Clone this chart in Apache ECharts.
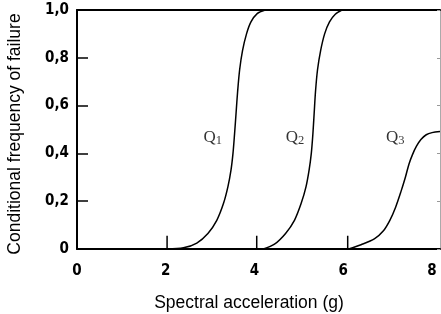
<!DOCTYPE html>
<html><head><meta charset="utf-8">
<script src="https://cdn.jsdelivr.net/npm/echarts@6/dist/echarts.min.js"></script>
<style>html,body{margin:0;padding:0;background:#fff}#c{width:441px;height:314px}</style>
</head><body><div id="c"></div>
<script>
const xTickLabels = ['0','2','4','6','8'];
const yTickLabels = ['0','0,2','0,4','0,6','0,8','1,0'];
const q1 = [[2.03,0],[2.4,0.005],[2.7,0.025],[2.95,0.065],[3.15,0.12],[3.3,0.19],[3.4,0.26],[3.47,0.33],[3.515,0.4],[3.55,0.48],[3.585,0.57],[3.62,0.66],[3.665,0.75],[3.73,0.83],[3.82,0.9],[3.92,0.95],[4.06,0.985],[4.24,1.0]];
const q2 = [[4.2,0],[4.45,0.02],[4.7,0.065],[4.9,0.12],[5.05,0.19],[5.16,0.26],[5.23,0.33],[5.28,0.4],[5.315,0.48],[5.345,0.57],[5.375,0.66],[5.42,0.75],[5.49,0.83],[5.58,0.9],[5.69,0.95],[5.82,0.982],[5.97,1.0]];
const q3 = [[6.12,0],[6.4,0.018],[6.7,0.042],[6.9,0.075],[7.05,0.12],[7.18,0.175],[7.3,0.24],[7.4,0.3],[7.48,0.355],[7.56,0.395],[7.65,0.43],[7.75,0.458],[7.87,0.478],[8.0,0.487],[8.18,0.492]];
const startValues = [2.03, 4.05, 6.1];
const curveNames = ['1','2','3'];
const labelPos = [[3.06,0.468],[4.91,0.468],[7.17,0.468]];

const chart = echarts.init(document.getElementById('c'), null, {renderer:'canvas'});
const tickFont = {fontFamily:'"DejaVu Sans Condensed","Liberation Sans Narrow",Arial,sans-serif', fontSize:15, fontWeight:'bold', color:'#000'};
const series = [];
[q1,q2,q3].forEach(d => series.push({type:'line', data:d, smooth:0.3, symbol:'none', lineStyle:{color:'#000', width:1.5}, xAxisIndex:0, yAxisIndex:0}));
startValues.forEach(v => series.push({type:'line', data:[[v,0],[v,0.055]], symbol:'none', lineStyle:{color:'#000', width:1.5}}));
series.push({type:'scatter', symbolSize:0, data:labelPos.map((p,i)=>({value:p, name:curveNames[i]})),
  label:{show:true, position:'inside', formatter: p => '{q|Q}{s|' + p.name + '}',
    rich:{q:{fontFamily:'"Liberation Serif","Times New Roman",serif', fontSize:17, color:'#000'},
          s:{fontFamily:'"Liberation Serif","Times New Roman",serif', fontSize:12.5, color:'#000', padding:[7,0,0,0]}}}});
chart.setOption({
  animation:false,
  grid:{left:77, right:1, top:10, bottom:65},
  xAxis:[{type:'value', min:0, max:8.18, interval:2, axisLine:{onZero:false, lineStyle:{color:'#000', width:2}}, axisTick:{show:false}, splitLine:{show:false},
    axisLabel:Object.assign({margin:15, showMaxLabel:false, formatter:(v)=>{const i=Math.round(v/2); return (Math.abs(v-i*2)<1e-6 && xTickLabels[i]!==undefined)?xTickLabels[i]:'';}}, tickFont)},
    {type:'value', position:'top', min:0, max:8.18, axisLine:{show:true, onZero:false, lineStyle:{color:'#000', width:2}}, axisTick:{show:false}, axisLabel:{show:false}, splitLine:{show:false}}],
  yAxis:[{type:'value', min:0, max:1, interval:0.2, axisLine:{show:true, onZero:false, lineStyle:{color:'#000', width:2}},
    axisTick:{show:true, inside:true, length:11, lineStyle:{color:'#000', width:1.5}}, splitLine:{show:false},
    axisLabel:Object.assign({margin:8, formatter:(v)=>yTickLabels[Math.round(v/0.2)]}, tickFont)},
    {type:'value', position:'right', min:0, max:1, interval:0.2, axisLine:{show:true, onZero:false, lineStyle:{color:'#aaa', width:1}},
    axisTick:{show:true, inside:true, length:3, lineStyle:{color:'#999'}}, axisLabel:{show:false}, splitLine:{show:false}}],
  graphic:[
    {type:'text', x:249, y:303, style:{text:'Spectral acceleration (g)', font:'17.5px "Liberation Sans", Arial, sans-serif', fill:'#000', align:'center', verticalAlign:'middle'}},
    {type:'text', x:15, y:134, rotation:Math.PI/2, style:{text:'Conditional frequency of failure', font:'17.5px "Liberation Sans", Arial, sans-serif', fill:'#000', align:'center', verticalAlign:'middle'}}
  ],
  series: series
});
</script></body></html>
